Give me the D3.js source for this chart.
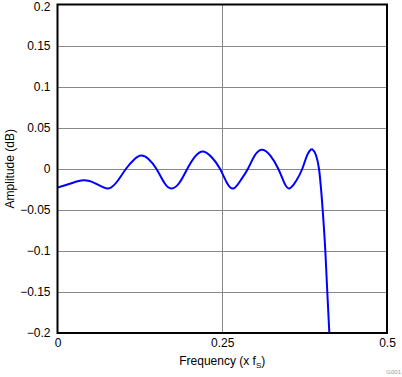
<!DOCTYPE html>
<html>
<head>
<meta charset="utf-8">
<script src="https://cdn.jsdelivr.net/npm/d3@7"></script>
<style>
  body { margin: 0; background: #fff; }
  text { font-family: "Liberation Sans", Arial, sans-serif; }
</style>
</head>
<body>
<div id="chart"></div>
<script>
let width = 402,
    height = 377,
    margin = ({ top: 4.5, right: 15, bottom: 44, left: 57.5 });

// frequency (x fs) and amplitude (dB)
const freq = [0, 0.02, 0.039, 0.058, 0.077, 0.092, 0.104, 0.116, 0.127, 0.138,
  0.150, 0.162, 0.173, 0.185, 0.197, 0.209, 0.221, 0.234, 0.2466, 0.257,
  0.267, 0.278, 0.289, 0.300, 0.311, 0.323, 0.335, 0.344, 0.352, 0.362,
  0.3715, 0.379, 0.3857, 0.392, 0.3968, 0.4024, 0.4064, 0.4094, 0.4125];
const amp = [-0.023, -0.018, -0.014, -0.018, -0.024, -0.014, 0.000, 0.011, 0.016, 0.012,
  0.000, -0.017, -0.024, -0.017, 0.000, 0.015, 0.021, 0.014, 0.000, -0.017,
  -0.024, -0.014, 0.000, 0.017, 0.0232, 0.016, 0.000, -0.017, -0.024, -0.015,
  0.000, 0.017, 0.0244, 0.017, 0.000, -0.05, -0.1, -0.15, -0.2];

const xTicks = [0, 0.25, 0.5];
const xTickLabels = ["0", "0.25", "0.5"];
const yTicks = [0.2, 0.15, 0.1, 0.05, 0, -0.05, -0.1, -0.15, -0.2];
const yTickLabels = ["0.2", "0.15", "0.1", "0.05", "0", "\u22120.05", "\u22120.1", "\u22120.15", "\u22120.2"];

const data = freq.map((f, i) => ({ f: f, a: amp[i] }));
// ripple part is smooth, the roll-off part is steep: draw them with different curves
const lastPeak = freq.indexOf(0.3857);
const ripple = data.slice(0, lastPeak + 1);
const rolloff = data.slice(lastPeak);

const svg = d3.select("#chart")
  .append("svg")
  .attr("width", width)
  .attr("height", height);

let x = d3.scaleLinear()
  .domain([0, 0.5])
  .range([margin.left, width - margin.right]);

let y = d3.scaleLinear()
  .domain([-0.2, 0.2])
  .range([height - margin.bottom, margin.top]);

// grid
svg.append("g")
  .selectAll("line.h")
  .data(yTicks.slice(1, -1))
  .join("line")
  .attr("x1", x(0)).attr("x2", x(0.5))
  .attr("y1", d => Math.round(y(d)) + 0.5).attr("y2", d => Math.round(y(d)) + 0.5)
  .attr("stroke", "#888")
  .attr("stroke-width", 1);

svg.append("g")
  .selectAll("line.v")
  .data(xTicks.slice(1, -1))
  .join("line")
  .attr("x1", d => Math.round(x(d)) + 0.5).attr("x2", d => Math.round(x(d)) + 0.5)
  .attr("y1", y(0.2)).attr("y2", y(-0.2))
  .attr("stroke", "#888")
  .attr("stroke-width", 1);

// axes (labels only)
let xAxis = svg.append("g")
  .attr("transform", `translate(0,${y(-0.2)})`)
  .call(d3.axisBottom(x).tickValues(xTicks).tickSize(0).tickPadding(5)
    .tickFormat((d, i) => xTickLabels[i]));
xAxis.select(".domain").remove();
xAxis.selectAll("text").attr("font-size", 12).attr("fill", "#000");

let yAxis = svg.append("g")
  .attr("transform", `translate(${x(0)},0)`)
  .call(d3.axisLeft(y).tickValues(yTicks).tickSize(0).tickPadding(7)
    .tickFormat((d, i) => yTickLabels[i]));
yAxis.select(".domain").remove();
yAxis.selectAll("text").attr("font-size", 12).attr("fill", "#000");
// keep the top label inside the page
yAxis.selectAll("text").filter(d => d === 0.2).attr("dy", "0.38em").attr("y", 1.5);

// curve
let line = d3.line()
  .x(d => x(d.f))
  .y(d => y(d.a));

svg.append("path")
  .datum(ripple)
  .attr("fill", "none")
  .attr("stroke", "#0000ff")
  .attr("stroke-width", 2)
  .attr("d", line.curve(d3.curveNatural));

svg.append("path")
  .datum(rolloff)
  .attr("fill", "none")
  .attr("stroke", "#0000ff")
  .attr("stroke-width", 2)
  .attr("d", line.curve(d3.curveMonotoneX));

// frame
svg.append("rect")
  .attr("x", x(0)).attr("y", y(0.2))
  .attr("width", x(0.5) - x(0))
  .attr("height", y(-0.2) - y(0.2))
  .attr("fill", "none")
  .attr("stroke", "#000")
  .attr("stroke-width", 2);

// titles
let xt = svg.append("text")
  .attr("x", x(0.25))
  .attr("y", 365)
  .attr("text-anchor", "middle")
  .attr("font-size", 12);
xt.append("tspan").text("Frequency (x f");
xt.append("tspan").attr("font-size", 8).attr("dy", 3).text("S");
xt.append("tspan").attr("dy", -3).text(")");

svg.append("text")
  .attr("transform", `translate(14,${y(0)}) rotate(-90)`)
  .attr("text-anchor", "middle")
  .attr("font-size", 12)
  .text("Amplitude (dB)");

svg.append("text")
  .attr("x", 401)
  .attr("y", 374)
  .attr("text-anchor", "end")
  .attr("font-size", 6)
  .attr("fill", "#999")
  .text("G001");
</script>
</body>
</html>
